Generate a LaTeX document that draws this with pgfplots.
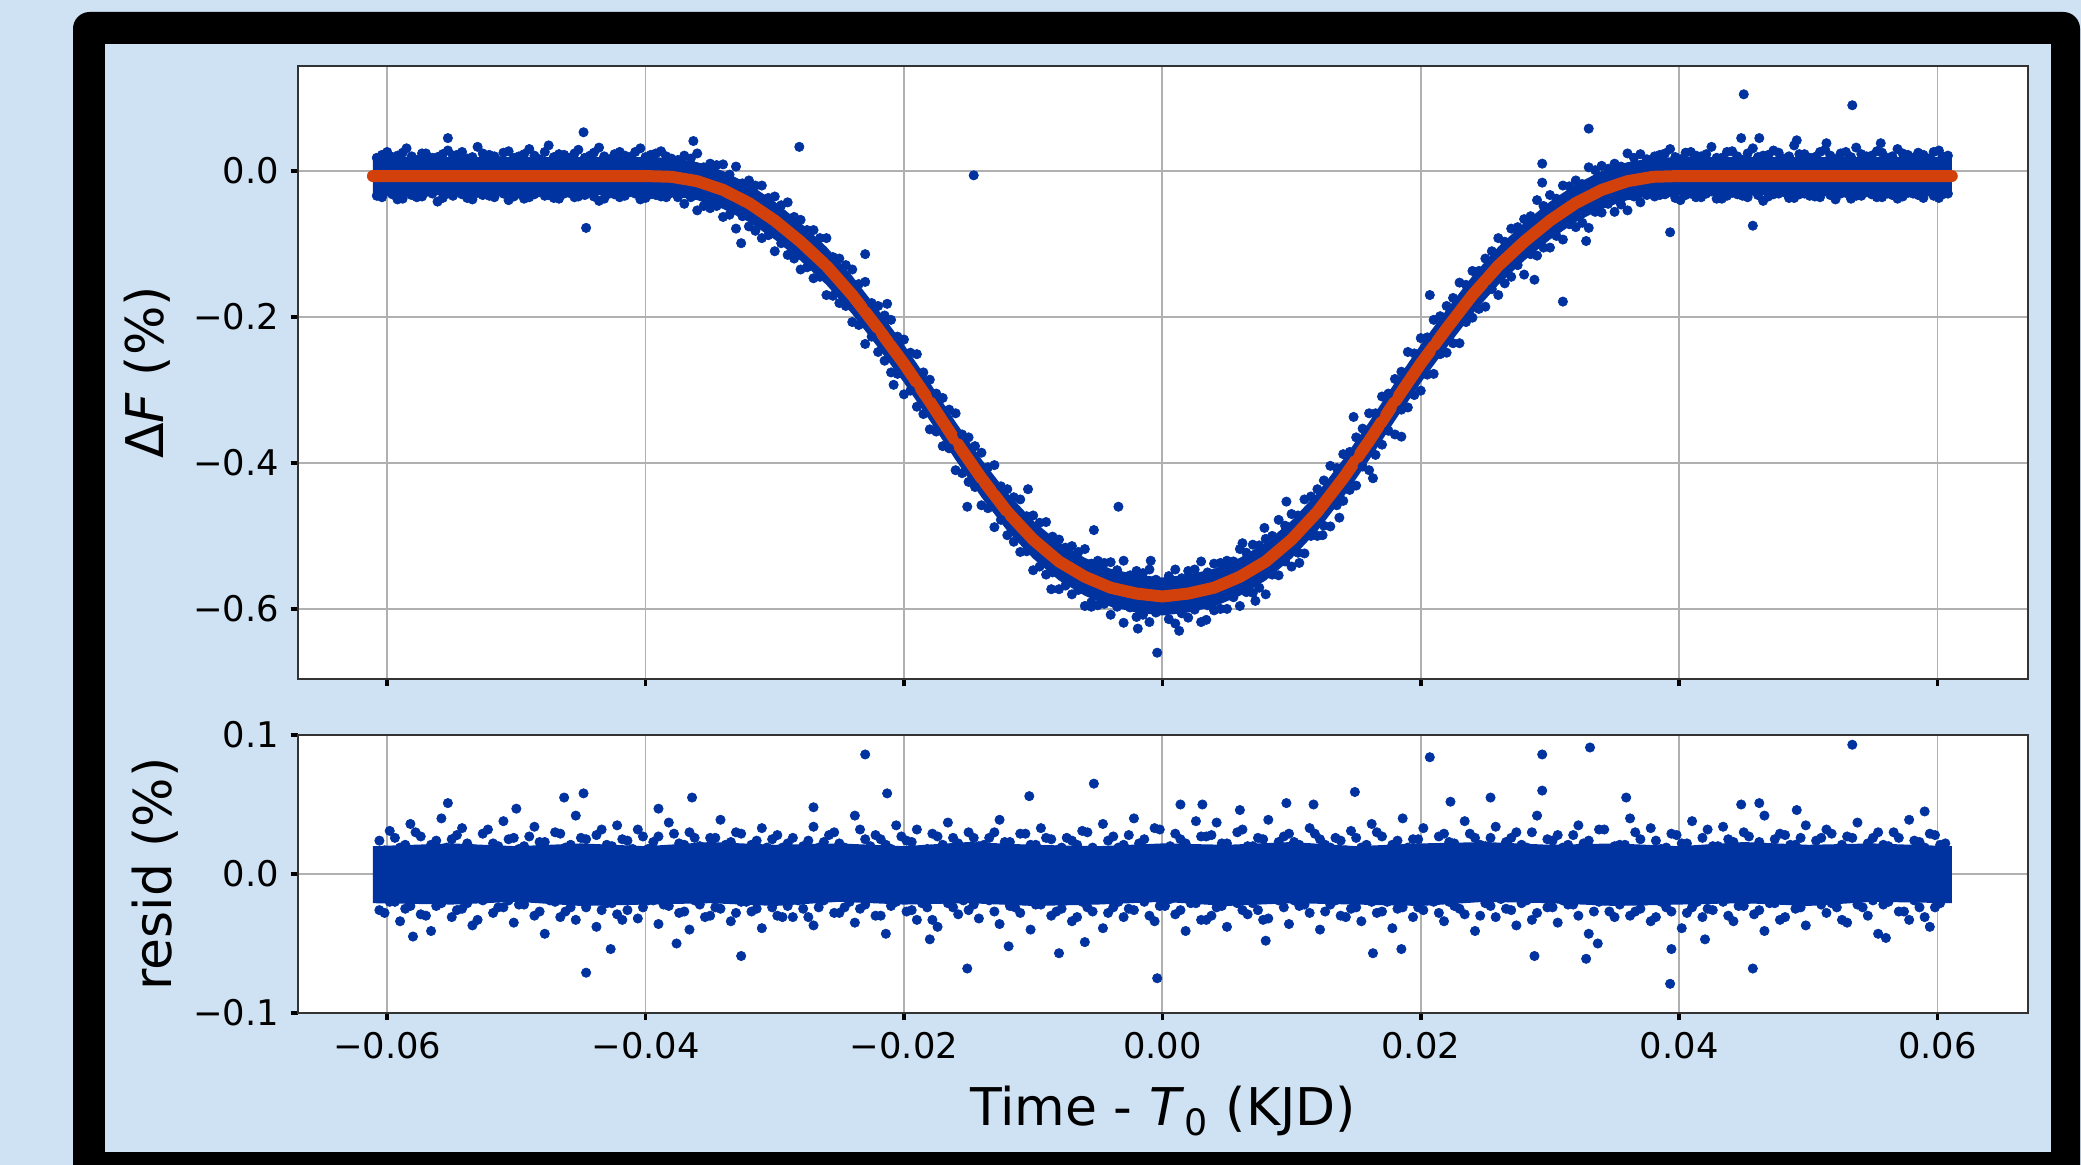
\documentclass[border=0pt]{standalone}
\usepackage{fontspec}
\setmainfont{DejaVu Sans}
\usepackage{pgfplots}
\usepackage{pgfplotstable}
\pgfplotsset{compat=1.18}

\definecolor{bgblue}{RGB}{207,226,243}
\definecolor{dotblue}{RGB}{0,51,160}
\definecolor{fitred}{RGB}{210,64,12}

% fitted transit model
\pgfplotstableread{
x y
-0.0611 -0.007
-0.040 -0.007
-0.038 -0.008
-0.036 -0.014
-0.034 -0.026
-0.032 -0.044
-0.030 -0.068
-0.028 -0.097
-0.026 -0.130
-0.024 -0.170
-0.022 -0.216
-0.020 -0.264
-0.018 -0.316
-0.016 -0.370
-0.014 -0.421
-0.012 -0.467
-0.010 -0.505
-0.008 -0.535
-0.006 -0.556
-0.004 -0.571
-0.002 -0.579
0.000 -0.583
0.002 -0.579
0.004 -0.571
0.006 -0.556
0.008 -0.535
0.010 -0.505
0.012 -0.467
0.014 -0.421
0.016 -0.370
0.018 -0.316
0.020 -0.264
0.022 -0.216
0.024 -0.170
0.026 -0.130
0.028 -0.097
0.030 -0.068
0.032 -0.044
0.034 -0.026
0.036 -0.014
0.038 -0.008
0.040 -0.007
0.0611 -0.007
}\model

% dense core of the light curve (upper edge, then lower edge back)
\pgfplotstableread{
x y
-0.0611 0.019
-0.040 0.019
-0.038 0.018
-0.036 0.012
-0.034 0.000
-0.032 -0.018
-0.030 -0.042
-0.028 -0.071
-0.026 -0.104
-0.024 -0.144
-0.022 -0.190
-0.020 -0.238
-0.018 -0.290
-0.016 -0.344
-0.014 -0.395
-0.012 -0.441
-0.010 -0.479
-0.008 -0.509
-0.006 -0.530
-0.004 -0.545
-0.002 -0.553
0.000 -0.557
0.002 -0.553
0.004 -0.545
0.006 -0.530
0.008 -0.509
0.010 -0.479
0.012 -0.441
0.014 -0.395
0.016 -0.344
0.018 -0.290
0.020 -0.238
0.022 -0.190
0.024 -0.144
0.026 -0.104
0.028 -0.071
0.030 -0.042
0.032 -0.018
0.034 0.000
0.036 0.012
0.038 0.018
0.040 0.019
0.0611 0.019
0.0611 -0.033
0.040 -0.033
0.038 -0.034
0.036 -0.040
0.034 -0.052
0.032 -0.070
0.030 -0.094
0.028 -0.123
0.026 -0.156
0.024 -0.196
0.022 -0.242
0.020 -0.290
0.018 -0.342
0.016 -0.396
0.014 -0.447
0.012 -0.493
0.010 -0.531
0.008 -0.561
0.006 -0.582
0.004 -0.597
0.002 -0.605
0.000 -0.609
-0.002 -0.605
-0.004 -0.597
-0.006 -0.582
-0.008 -0.561
-0.010 -0.531
-0.012 -0.493
-0.014 -0.447
-0.016 -0.396
-0.018 -0.342
-0.020 -0.290
-0.022 -0.242
-0.024 -0.196
-0.026 -0.156
-0.028 -0.123
-0.030 -0.094
-0.032 -0.070
-0.034 -0.052
-0.036 -0.040
-0.038 -0.034
-0.040 -0.033
-0.0611 -0.033
}\fluxcore

% light curve points along the outer edges of the band
\pgfplotstableread{
x up lo
-0.0608 0.018 -0.034
-0.0600 0.026 -0.028
-0.0592 0.021 -0.039
-0.0585 0.031 -0.030
-0.0577 0.015 -0.036
-0.0570 0.024 -0.029
-0.0561 0.019 -0.042
-0.0553 0.028 -0.031
-0.0546 0.022 -0.027
-0.0538 0.017 -0.037
-0.0530 0.033 -0.030
-0.0521 0.022 -0.034
-0.0514 0.014 -0.028
-0.0506 0.027 -0.040
-0.0498 0.020 -0.031
-0.0490 0.030 -0.036
-0.0482 0.016 -0.029
-0.0475 0.035 -0.033
-0.0467 0.023 -0.038
-0.0459 0.018 -0.030
-0.0452 0.029 -0.035
-0.0443 0.021 -0.028
-0.0436 0.032 -0.041
-0.0428 0.016 -0.031
-0.0420 0.026 -0.036
-0.0412 0.019 -0.029
-0.0404 0.031 -0.039
-0.0396 0.022 -0.032
-0.0388 0.027 -0.035
-0.0380 0.017 -0.030
-0.037 0.021 -0.045
-0.036 0.024 -0.054
-0.035 0.010 -0.051
-0.034 0.009 -0.063
-0.033 0.006 -0.079
-0.032 -0.013 -0.076
-0.031 -0.020 -0.092
-0.030 -0.035 -0.110
-0.029 -0.043 -0.115
-0.028 -0.067 -0.135
-0.027 -0.081 -0.147
-0.026 -0.092 -0.170
-0.025 -0.120 -0.181
-0.024 -0.135 -0.207
-0.023 -0.152 -0.237
-0.022 -0.185 -0.248
-0.021 -0.204 -0.276
-0.020 -0.231 -0.306
-0.019 -0.251 -0.323
-0.018 -0.286 -0.354
-0.017 -0.311 -0.377
-0.016 -0.332 -0.410
-0.015 -0.365 -0.426
-0.014 -0.386 -0.458
-0.013 -0.403 -0.488
-0.012 -0.436 -0.499
-0.011 -0.450 -0.522
-0.010 -0.472 -0.547
-0.009 -0.481 -0.553
-0.008 -0.505 -0.573
-0.007 -0.514 -0.580
-0.006 -0.518 -0.596
-0.005 -0.534 -0.595
-0.004 -0.536 -0.608
-0.003 -0.534 -0.619
-0.002 -0.548 -0.611
-0.001 -0.546 -0.618
0.001 -0.546 -0.620
0.002 -0.548 -0.612
0.003 -0.535 -0.618
0.004 -0.538 -0.602
0.005 -0.534 -0.600
0.006 -0.518 -0.596
0.007 -0.512 -0.578
0.008 -0.504 -0.580
0.009 -0.478 -0.554
0.010 -0.470 -0.542
0.011 -0.450 -0.524
0.012 -0.436 -0.500
0.013 -0.404 -0.487
0.014 -0.388 -0.452
0.015 -0.365 -0.431
0.016 -0.332 -0.410
0.017 -0.309 -0.375
0.018 -0.285 -0.361
0.019 -0.248 -0.324
0.020 -0.229 -0.301
0.021 -0.204 -0.278
0.022 -0.185 -0.249
0.023 -0.153 -0.236
0.024 -0.137 -0.201
0.025 -0.120 -0.186
0.026 -0.092 -0.170
0.027 -0.079 -0.145
0.028 -0.066 -0.142
0.029 -0.040 -0.116
0.030 -0.033 -0.105
0.031 -0.020 -0.094
0.032 -0.013 -0.077
0.033 0.005 -0.078
0.034 0.007 -0.057
0.035 0.010 -0.056
0.036 0.024 -0.054
0.037 0.023 -0.043
0.0385 0.022 -0.033
0.0393 0.030 -0.029
0.0401 0.016 -0.040
0.0409 0.026 -0.031
0.0417 0.020 -0.036
0.0425 0.033 -0.028
0.0433 0.018 -0.038
0.0441 0.027 -0.030
0.0449 0.015 -0.034
0.0457 0.031 -0.027
0.0465 0.021 -0.041
0.0473 0.028 -0.032
0.0481 0.017 -0.029
0.0489 0.035 -0.037
0.0497 0.023 -0.031
0.0505 0.019 -0.035
0.0513 0.029 -0.028
0.0521 0.016 -0.039
0.0529 0.026 -0.030
0.0537 0.032 -0.034
0.0545 0.020 -0.029
0.0553 0.027 -0.036
0.0561 0.018 -0.031
0.0569 0.030 -0.038
0.0577 0.022 -0.030
0.0585 0.025 -0.033
0.0593 0.017 -0.028
0.0601 0.028 -0.037
0.0608 0.021 -0.031
}\fluxedge

% light curve points near the edges of the dense core
\pgfplotstableread{
x up lo
-0.0604 0.022 -0.036
-0.0596 0.019 -0.032
-0.0588 0.025 -0.038
-0.0581 0.020 -0.033
-0.0573 0.024 -0.035
-0.0565 0.018 -0.031
-0.0557 0.023 -0.037
-0.0549 0.021 -0.034
-0.0542 0.026 -0.032
-0.0534 0.019 -0.039
-0.0526 0.024 -0.033
-0.0517 0.020 -0.036
-0.0510 0.025 -0.031
-0.0502 0.018 -0.035
-0.0494 0.023 -0.038
-0.0486 0.021 -0.032
-0.0478 0.026 -0.034
-0.0471 0.019 -0.037
-0.0463 0.022 -0.031
-0.0455 0.024 -0.036
-0.0447 0.018 -0.033
-0.0440 0.025 -0.035
-0.0432 0.020 -0.038
-0.0424 0.023 -0.032
-0.0416 0.021 -0.034
-0.0408 0.026 -0.031
-0.0400 0.019 -0.037
-0.0392 0.024 -0.033
-0.0384 0.020 -0.036
-0.0375 0.015 -0.036
-0.0365 0.017 -0.036
-0.0355 0.005 -0.048
-0.0345 0.008 -0.048
-0.0335 -0.005 -0.060
-0.0325 -0.017 -0.062
-0.0315 -0.020 -0.082
-0.0305 -0.037 -0.088
-0.0295 -0.047 -0.099
-0.0285 -0.063 -0.120
-0.0275 -0.081 -0.132
-0.0265 -0.092 -0.145
-0.0255 -0.118 -0.171
-0.0245 -0.129 -0.185
-0.0235 -0.155 -0.211
-0.0225 -0.181 -0.227
-0.0215 -0.198 -0.260
-0.0205 -0.227 -0.278
-0.0195 -0.249 -0.301
-0.0185 -0.276 -0.333
-0.0175 -0.305 -0.357
-0.0165 -0.327 -0.380
-0.0155 -0.361 -0.414
-0.0145 -0.377 -0.433
-0.0135 -0.406 -0.462
-0.0125 -0.432 -0.478
-0.0115 -0.447 -0.508
-0.0105 -0.473 -0.521
-0.0095 -0.482 -0.542
-0.0085 -0.501 -0.550
-0.0075 -0.516 -0.568
-0.0065 -0.522 -0.574
-0.0055 -0.538 -0.591
-0.0045 -0.537 -0.593
-0.0035 -0.547 -0.597
-0.0025 -0.554 -0.598
-0.0015 -0.551 -0.608
-0.0005 -0.560 -0.605
0.0005 -0.555 -0.614
0.0015 -0.558 -0.606
0.0025 -0.546 -0.601
0.0035 -0.550 -0.595
0.0045 -0.537 -0.600
0.0055 -0.535 -0.584
0.0065 -0.523 -0.577
0.0075 -0.513 -0.571
0.0085 -0.500 -0.553
0.0095 -0.486 -0.535
0.0105 -0.472 -0.523
0.0115 -0.446 -0.500
0.0125 -0.424 -0.486
0.0135 -0.407 -0.458
0.0145 -0.385 -0.437
0.0155 -0.353 -0.405
0.0165 -0.332 -0.389
0.0175 -0.305 -0.356
0.0185 -0.275 -0.327
0.0195 -0.250 -0.307
0.0205 -0.228 -0.279
0.0215 -0.199 -0.251
0.0225 -0.174 -0.236
0.0235 -0.156 -0.207
0.0245 -0.137 -0.189
0.0255 -0.110 -0.162
0.0265 -0.097 -0.154
0.0275 -0.077 -0.129
0.0285 -0.062 -0.114
0.0295 -0.048 -0.105
0.0305 -0.038 -0.089
0.0315 -0.021 -0.073
0.0325 -0.018 -0.071
0.0335 0.001 -0.056
0.0345 0.003 -0.045
0.0355 0.006 -0.046
0.0365 0.018 -0.035
0.0375 0.016 -0.033
0.0381 0.020 -0.035
0.0389 0.024 -0.032
0.0397 0.019 -0.037
0.0405 0.025 -0.033
0.0413 0.021 -0.036
0.0421 0.023 -0.031
0.0429 0.018 -0.038
0.0437 0.026 -0.034
0.0445 0.020 -0.032
0.0453 0.024 -0.036
0.0461 0.019 -0.033
0.0469 0.022 -0.035
0.0477 0.025 -0.031
0.0485 0.020 -0.037
0.0493 0.023 -0.032
0.0501 0.018 -0.034
0.0509 0.026 -0.036
0.0517 0.021 -0.033
0.0525 0.024 -0.031
0.0533 0.019 -0.038
0.0541 0.023 -0.034
0.0549 0.021 -0.032
0.0557 0.025 -0.036
0.0565 0.020 -0.033
0.0573 0.024 -0.035
0.0581 0.018 -0.031
0.0589 0.022 -0.037
0.0597 0.026 -0.034
0.0604 0.020 -0.032
}\fluxinner

% isolated light curve points
\pgfplotstableread{
x y
-0.0553 0.045
-0.0448 0.053
-0.0363 0.041
-0.0446 -0.078
-0.0326 -0.099
-0.0281 0.033
-0.0146 -0.006
-0.0230 -0.114
-0.0213 -0.182
-0.0208 -0.293
-0.0151 -0.460
-0.0104 -0.436
-0.0053 -0.492
-0.0034 -0.460
-0.0009 -0.534
-0.0004 -0.660
-0.0019 -0.627
0.0013 -0.630
0.0034 -0.615
-0.0086 -0.573
-0.0055 -0.597
0.0072 -0.589
0.0106 -0.537
0.0062 -0.510
0.0079 -0.489
0.0096 -0.453
0.0124 -0.499
0.0137 -0.475
0.0148 -0.337
0.0185 -0.364
0.0163 -0.421
0.0207 -0.170
0.0288 -0.149
0.0310 -0.179
0.0294 0.010
0.0294 -0.016
0.0393 -0.084
0.0328 -0.096
0.0330 0.058
0.0450 0.105
0.0534 0.090
0.0457 -0.075
0.0448 0.045
0.0462 0.045
0.0491 0.042
0.0514 0.038
0.0556 0.038
}\fluxout

% dense core of the residuals (upper edge, then lower edge back)
\pgfplotstableread{
x y
-0.0611 0.020
-0.055 0.022
-0.050 0.020
-0.045 0.022
-0.040 0.020
-0.035 0.023
-0.030 0.021
-0.025 0.022
-0.020 0.020
-0.015 0.023
-0.010 0.021
-0.005 0.020
0.000 0.022
0.005 0.021
0.010 0.023
0.015 0.020
0.020 0.022
0.025 0.023
0.030 0.021
0.035 0.022
0.040 0.020
0.045 0.023
0.050 0.021
0.055 0.022
0.0611 0.020
0.0611 -0.021
0.055 -0.020
0.050 -0.023
0.045 -0.021
0.040 -0.022
0.035 -0.023
0.030 -0.021
0.025 -0.020
0.020 -0.023
0.015 -0.022
0.010 -0.021
0.005 -0.023
0.000 -0.020
-0.005 -0.022
-0.010 -0.023
-0.015 -0.021
-0.020 -0.022
-0.025 -0.020
-0.030 -0.023
-0.035 -0.021
-0.040 -0.022
-0.045 -0.023
-0.050 -0.020
-0.055 -0.022
-0.0611 -0.021
}\residcore

% residual points around the core, outer rows
\pgfplotstableread{
x up lo
-0.0606 0.024 -0.026
-0.0598 0.031 -0.020
-0.0590 0.019 -0.034
-0.0582 0.036 -0.023
-0.0574 0.027 -0.029
-0.0566 0.021 -0.041
-0.0558 0.040 -0.021
-0.0550 0.025 -0.031
-0.0542 0.033 -0.025
-0.0534 0.018 -0.037
-0.0526 0.029 -0.019
-0.0518 0.022 -0.028
-0.0510 0.038 -0.024
-0.0502 0.026 -0.035
-0.0494 0.020 -0.022
-0.0486 0.034 -0.030
-0.0478 0.023 -0.043
-0.0470 0.030 -0.020
-0.0462 0.019 -0.027
-0.0454 0.042 -0.033
-0.0446 0.025 -0.024
-0.0438 0.028 -0.038
-0.0430 0.021 -0.021
-0.0422 0.035 -0.029
-0.0414 0.024 -0.026
-0.0406 0.032 -0.032
-0.0398 0.018 -0.019
-0.0390 0.027 -0.036
-0.0382 0.037 -0.023
-0.0374 0.022 -0.028
-0.0366 0.030 -0.040
-0.0358 0.020 -0.022
-0.0350 0.026 -0.030
-0.0342 0.039 -0.025
-0.0334 0.023 -0.034
-0.0326 0.029 -0.020
-0.0318 0.021 -0.027
-0.0310 0.033 -0.039
-0.0302 0.025 -0.024
-0.0294 0.019 -0.031
-0.0286 0.026 -0.031
-0.0278 0.020 -0.025
-0.0270 0.034 -0.037
-0.0262 0.023 -0.019
-0.0254 0.030 -0.028
-0.0246 0.019 -0.024
-0.0238 0.042 -0.035
-0.0230 0.025 -0.022
-0.0222 0.028 -0.030
-0.0214 0.021 -0.043
-0.0206 0.035 -0.020
-0.0198 0.024 -0.027
-0.0190 0.032 -0.033
-0.0182 0.018 -0.024
-0.0174 0.027 -0.038
-0.0166 0.037 -0.021
-0.0158 0.022 -0.029
-0.0150 0.030 -0.026
-0.0142 0.020 -0.032
-0.0134 0.026 -0.019
-0.0126 0.039 -0.036
-0.0118 0.023 -0.023
-0.0110 0.029 -0.028
-0.0102 0.021 -0.040
-0.0094 0.033 -0.022
-0.0086 0.025 -0.030
-0.0078 0.019 -0.025
-0.0070 0.024 -0.034
-0.0062 0.031 -0.020
-0.0054 0.019 -0.027
-0.0046 0.036 -0.039
-0.0038 0.027 -0.024
-0.0030 0.021 -0.031
-0.0022 0.040 -0.026
-0.0014 0.025 -0.020
-0.0006 0.033 -0.034
0.0002 0.018 -0.023
0.0010 0.029 -0.029
0.0018 0.022 -0.041
0.0026 0.038 -0.021
0.0034 0.027 -0.033
0.0042 0.037 -0.024
0.0050 0.022 -0.038
0.0058 0.030 -0.021
0.0066 0.020 -0.029
0.0074 0.026 -0.026
0.0082 0.039 -0.032
0.0090 0.023 -0.019
0.0098 0.029 -0.036
0.0106 0.021 -0.023
0.0114 0.033 -0.028
0.0122 0.025 -0.040
0.0130 0.019 -0.022
0.0138 0.024 -0.030
0.0146 0.031 -0.025
0.0154 0.019 -0.034
0.0162 0.036 -0.020
0.0170 0.027 -0.027
0.0178 0.021 -0.039
0.0186 0.040 -0.024
0.0194 0.025 -0.031
0.0202 0.033 -0.026
0.0210 0.018 -0.020
0.0218 0.029 -0.034
0.0226 0.022 -0.023
0.0234 0.038 -0.029
0.0242 0.026 -0.041
0.0250 0.020 -0.021
0.0258 0.034 -0.031
0.0266 0.023 -0.025
0.0274 0.030 -0.037
0.0282 0.019 -0.019
0.0290 0.042 -0.028
0.0298 0.025 -0.024
0.0306 0.028 -0.035
0.0314 0.021 -0.022
0.0322 0.035 -0.030
0.0330 0.024 -0.043
0.0338 0.032 -0.020
0.0346 0.018 -0.027
0.0354 0.021 -0.022
0.0362 0.040 -0.030
0.0370 0.025 -0.025
0.0378 0.033 -0.034
0.0386 0.018 -0.020
0.0394 0.029 -0.027
0.0402 0.022 -0.039
0.0410 0.038 -0.024
0.0418 0.026 -0.031
0.0426 0.020 -0.026
0.0434 0.034 -0.020
0.0442 0.023 -0.034
0.0450 0.030 -0.023
0.0458 0.019 -0.029
0.0466 0.042 -0.041
0.0474 0.025 -0.021
0.0482 0.028 -0.031
0.0490 0.021 -0.025
0.0498 0.035 -0.037
0.0506 0.024 -0.019
0.0514 0.032 -0.028
0.0522 0.018 -0.024
0.0530 0.027 -0.035
0.0538 0.037 -0.022
0.0546 0.022 -0.030
0.0554 0.030 -0.043
0.0562 0.020 -0.020
0.0570 0.026 -0.027
0.0578 0.039 -0.033
0.0586 0.023 -0.024
0.0594 0.029 -0.038
0.0602 0.021 -0.021
}\residedge

% residual points around the core, inner rows
\pgfplotstableread{
x up lo
-0.0602 0.017 -0.028
-0.0594 0.026 -0.020
-0.0586 0.021 -0.025
-0.0578 0.030 -0.017
-0.0570 0.015 -0.030
-0.0562 0.024 -0.023
-0.0554 0.019 -0.018
-0.0546 0.028 -0.026
-0.0538 0.022 -0.021
-0.0530 0.016 -0.033
-0.0522 0.032 -0.016
-0.0514 0.020 -0.024
-0.0506 0.025 -0.019
-0.0498 0.018 -0.022
-0.0490 0.027 -0.016
-0.0482 0.023 -0.027
-0.0474 0.014 -0.019
-0.0466 0.029 -0.031
-0.0458 0.021 -0.024
-0.0450 0.026 -0.015
-0.0442 0.016 -0.018
-0.0434 0.032 -0.026
-0.0426 0.020 -0.021
-0.0418 0.025 -0.033
-0.0410 0.018 -0.016
-0.0402 0.027 -0.024
-0.0394 0.023 -0.019
-0.0386 0.014 -0.022
-0.0378 0.029 -0.016
-0.0370 0.021 -0.027
-0.0362 0.026 -0.019
-0.0354 0.017 -0.031
-0.0346 0.026 -0.024
-0.0338 0.021 -0.015
-0.0330 0.030 -0.028
-0.0322 0.015 -0.020
-0.0314 0.024 -0.025
-0.0306 0.019 -0.017
-0.0298 0.028 -0.030
-0.0290 0.022 -0.023
-0.0282 0.015 -0.019
-0.0274 0.024 -0.031
-0.0266 0.019 -0.024
-0.0258 0.028 -0.015
-0.0250 0.022 -0.028
-0.0242 0.016 -0.020
-0.0234 0.032 -0.025
-0.0226 0.020 -0.017
-0.0218 0.025 -0.030
-0.0210 0.018 -0.023
-0.0202 0.027 -0.018
-0.0194 0.023 -0.026
-0.0186 0.014 -0.021
-0.0178 0.029 -0.033
-0.0170 0.021 -0.016
-0.0162 0.026 -0.024
-0.0154 0.017 -0.019
-0.0146 0.026 -0.022
-0.0138 0.021 -0.016
-0.0130 0.030 -0.027
-0.0122 0.023 -0.016
-0.0114 0.014 -0.024
-0.0106 0.029 -0.019
-0.0098 0.021 -0.022
-0.0090 0.026 -0.016
-0.0082 0.017 -0.027
-0.0074 0.026 -0.019
-0.0066 0.021 -0.031
-0.0058 0.030 -0.024
-0.0050 0.015 -0.015
-0.0042 0.024 -0.028
-0.0034 0.019 -0.020
-0.0026 0.028 -0.025
-0.0018 0.022 -0.017
-0.0010 0.016 -0.030
-0.0002 0.032 -0.023
0.0006 0.020 -0.018
0.0014 0.025 -0.026
0.0022 0.018 -0.021
0.0030 0.027 -0.033
0.0038 0.028 -0.030
0.0046 0.022 -0.023
0.0054 0.016 -0.018
0.0062 0.032 -0.026
0.0070 0.020 -0.021
0.0078 0.025 -0.033
0.0086 0.018 -0.016
0.0094 0.027 -0.024
0.0102 0.023 -0.019
0.0110 0.014 -0.022
0.0118 0.029 -0.016
0.0126 0.021 -0.027
0.0134 0.026 -0.019
0.0142 0.017 -0.031
0.0150 0.026 -0.024
0.0158 0.021 -0.015
0.0166 0.030 -0.028
0.0174 0.015 -0.020
0.0182 0.024 -0.025
0.0190 0.019 -0.017
0.0198 0.025 -0.024
0.0206 0.018 -0.015
0.0214 0.027 -0.028
0.0222 0.023 -0.020
0.0230 0.014 -0.025
0.0238 0.029 -0.017
0.0246 0.021 -0.030
0.0254 0.026 -0.023
0.0262 0.017 -0.018
0.0270 0.026 -0.026
0.0278 0.021 -0.021
0.0286 0.030 -0.033
0.0294 0.015 -0.016
0.0302 0.024 -0.024
0.0310 0.019 -0.019
0.0318 0.028 -0.022
0.0326 0.022 -0.016
0.0334 0.016 -0.027
0.0342 0.032 -0.019
0.0350 0.020 -0.031
0.0358 0.021 -0.016
0.0366 0.030 -0.027
0.0374 0.015 -0.019
0.0382 0.024 -0.031
0.0390 0.019 -0.024
0.0398 0.028 -0.015
0.0406 0.022 -0.028
0.0414 0.016 -0.020
0.0422 0.032 -0.025
0.0430 0.020 -0.017
0.0438 0.025 -0.030
0.0446 0.018 -0.023
0.0454 0.027 -0.018
0.0462 0.023 -0.026
0.0470 0.014 -0.021
0.0478 0.029 -0.033
0.0486 0.021 -0.016
0.0494 0.026 -0.024
0.0502 0.017 -0.019
0.0510 0.026 -0.022
0.0518 0.029 -0.021
0.0526 0.021 -0.033
0.0534 0.026 -0.016
0.0542 0.017 -0.024
0.0550 0.026 -0.019
0.0558 0.021 -0.022
0.0566 0.030 -0.016
0.0574 0.015 -0.027
0.0582 0.024 -0.019
0.0590 0.019 -0.031
0.0598 0.028 -0.024
0.0606 0.022 -0.015
}\residinner

% isolated residual points
\pgfplotstableread{
x y
-0.0230 0.086
-0.0446 -0.071
-0.0553 0.051
-0.0364 0.055
-0.0448 0.058
-0.0463 0.055
-0.0326 -0.059
-0.0213 0.058
-0.0427 -0.054
-0.0376 -0.050
0.0207 0.084
-0.0053 0.065
-0.0151 -0.068
-0.0004 -0.075
-0.0103 0.056
0.0149 0.059
0.0096 0.051
0.0117 0.050
0.0014 0.050
0.0031 0.050
0.0163 -0.057
0.0185 -0.054
-0.0080 -0.057
-0.0119 -0.052
0.0254 0.055
0.0223 0.052
0.0534 0.093
0.0331 0.091
0.0294 0.086
0.0294 0.060
0.0393 -0.079
0.0457 -0.068
0.0359 0.055
0.0448 0.050
0.0462 0.051
0.0491 0.046
0.0288 -0.059
0.0328 -0.061
0.0337 -0.050
0.0394 -0.054
-0.0580 -0.045
-0.0500 0.047
-0.0270 0.048
-0.0180 -0.047
-0.0060 -0.049
0.0060 0.046
0.0080 -0.048
0.0420 -0.047
0.0560 -0.046
0.0590 0.045
-0.0390 0.047
}\residout

\pgfplotsset{
  panel/.style={
    scale only axis,
    width=519pt,
    xmin=-0.0669, xmax=0.0670,
    scaled x ticks=false, scaled y ticks=false,
    axis background/.style={fill=white},
    axis line style={black!80, line width=0.6pt},
    grid=major,
    grid style={draw=black!31, line width=0.55pt},
    tick align=outside,
    xtick pos=left, ytick pos=left,
    major tick length=2.2pt,
    tick style={black, line width=1.1pt},
    xtick={-0.06,-0.04,-0.02,0,0.02,0.04,0.06},
    ticklabel style={font=\fontsize{10.6}{12}\selectfont},
    label style={font=\fontsize{15.6}{18}\selectfont},
  },
  dots/.style={only marks, color=dotblue, mark=*, mark size=1.4pt,
    mark options={draw=dotblue, fill=dotblue, line width=0.2pt}},
}

\begin{document}
\begin{tikzpicture}
\useasboundingbox (0,0) rectangle (624.3pt,-349.5pt);
\clip (0,0) rectangle (624.3pt,-349.5pt);
\fill[bgblue] (0,0) rectangle (624.3pt,-349.5pt);
\fill[black, rounded corners=5pt] (21.9pt,-3.6pt) rectangle (624.0pt,-370pt);
\fill[bgblue] (31.5pt,-13.2pt) rectangle (615.3pt,-345.6pt);

\begin{axis}[panel,
  at={(89.4pt,-19.8pt)}, anchor=north west,
  height=183.9pt,
  ymin=-0.696, ymax=0.1438,
  ytick={-0.6,-0.4,-0.2,0},
  yticklabels={−0.6,−0.4,−0.2,0.0},
  xticklabels={},
  ylabel={Δ\textit{F} (\%)},
  ylabel style={at={(axis description cs:-0.0870,0.5)}, anchor=center},
]
\addplot[fill=dotblue, draw=none] table[x=x, y=y] {\fluxcore} --cycle;
\addplot[dots] table[x=x, y=up] {\fluxinner};
\addplot[dots] table[x=x, y=lo] {\fluxinner};
\addplot[dots] table[x=x, y=up] {\fluxedge};
\addplot[dots] table[x=x, y=lo] {\fluxedge};
\addplot[dots] table[x=x, y=y] {\fluxout};
\addplot[draw=fitred, line width=3.6pt, line cap=round, line join=round] table[x=x, y=y] {\model};
\end{axis}

\begin{axis}[panel,
  at={(89.4pt,-220.5pt)}, anchor=north west,
  height=83.4pt,
  ymin=-0.1, ymax=0.1,
  ytick={-0.1,0,0.1},
  yticklabels={−0.1,0.0,0.1},
  xticklabels={−0.06,−0.04,−0.02,0.00,0.02,0.04,0.06},
  ylabel={resid (\%)},
  ylabel style={at={(axis description cs:-0.0827,0.5)}, anchor=center},
  xlabel={Time - \textit{T}\textsubscript{0} (KJD)},
  xlabel style={at={(axis description cs:0.5,-0.403)}, anchor=base},
]
\addplot[fill=dotblue, draw=none] table[x=x, y=y] {\residcore} --cycle;
\addplot[dots] table[x=x, y=up] {\residinner};
\addplot[dots] table[x=x, y=lo] {\residinner};
\addplot[dots] table[x=x, y=up] {\residedge};
\addplot[dots] table[x=x, y=lo] {\residedge};
\addplot[dots] table[x=x, y=y] {\residout};
\end{axis}
\end{tikzpicture}
\end{document}
